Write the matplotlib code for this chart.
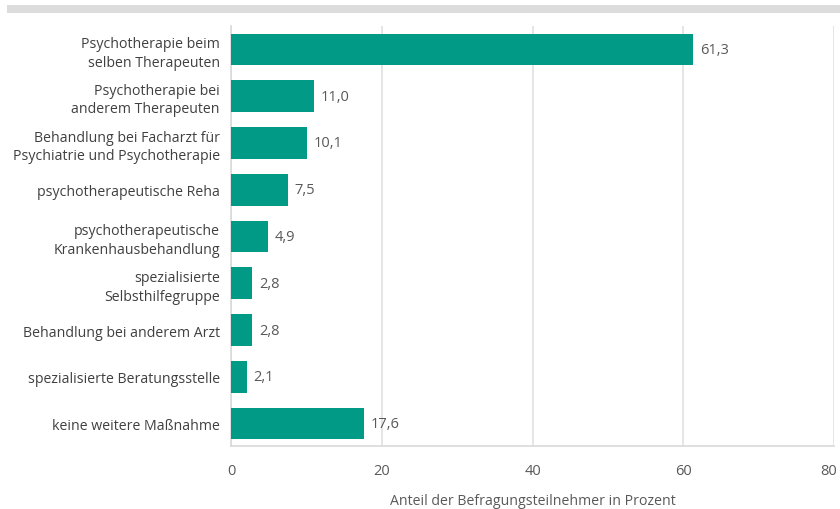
import matplotlib
matplotlib.use("Agg")
import matplotlib.pyplot as plt
from matplotlib.patches import Rectangle
import matplotlib.transforms as mtransforms

categories = [
    "Psychotherapie beim\nselben Therapeuten",
    "Psychotherapie bei\nanderem Therapeuten",
    "Behandlung bei Facharzt für\nPsychiatrie und Psychotherapie",
    "psychotherapeutische Reha",
    "psychotherapeutische\nKrankenhausbehandlung",
    "spezialisierte\nSelbsthilfegruppe",
    "Behandlung bei anderem Arzt",
    "spezialisierte Beratungsstelle",
    "keine weitere Maßnahme",
]
values = [61.3, 11.0, 10.1, 7.5, 4.9, 2.8, 2.8, 2.1, 17.6]
xticks = [0, 20, 40, 60, 80]
xlabel = "Anteil der Befragungsteilnehmer in Prozent"

plt.rcParams['font.family'] = ['Open Sans', 'DejaVu Sans']

fig = plt.figure(figsize=(8.4, 5.1), dpi=100)
ax = fig.add_axes([0.275, 0.1235, 0.718, 0.8235])

# top grey band
fig.add_artist(Rectangle((7/840, 1-14/510), 1-7/840, 8/510, transform=fig.transFigure,
                         facecolor="#dcdcdc", edgecolor="none"))

color = "#009a87"
ypos = list(range(len(categories)))
ax.barh(ypos, values, height=0.68, color=color, zorder=3)
for y, v in zip(ypos, values):
    ax.text(v + 0.9, y, f"{v:.1f}".replace(".", ","), va="center", ha="left",
            fontsize=10.5, color="#595959")

ax.set_ylim(len(categories) - 0.52, -0.5)
ax.set_xlim(0, 80)
ax.set_xticks(xticks)
ax.set_xticklabels([str(t) for t in xticks], fontsize=10.5, color="#595959")
ax.set_yticks(ypos)
ax.set_yticklabels(categories, fontsize=10.2, color="#404040", linespacing=1.3)
ax.tick_params(axis="both", length=0, pad=8)
ax.tick_params(axis="x", pad=12)
# nudge the last tick label so it stays inside the figure
lbls = ax.get_xticklabels()
off = mtransforms.ScaledTranslation(-5/100, 0, fig.dpi_scale_trans)
lbls[-1].set_transform(lbls[-1].get_transform() + off)
ax.grid(axis="x", color="#e0e0e0", linewidth=1.2, zorder=0)
for s in ["top", "right"]:
    ax.spines[s].set_visible(False)
for s in ["left", "bottom"]:
    ax.spines[s].set_color("#d9d9d9")
    ax.spines[s].set_linewidth(1.2)
ax.set_xlabel(xlabel, fontsize=10.2, color="#595959", labelpad=11)

fig.savefig("out.png", dpi=100)
